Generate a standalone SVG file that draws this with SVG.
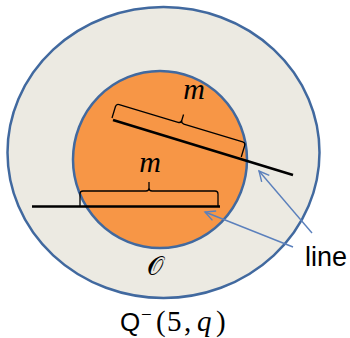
<svg xmlns="http://www.w3.org/2000/svg" width="350" height="338" viewBox="0 0 350 338">
<style>
.ring{stroke:#41699f;stroke-width:2.5}
.blk{stroke:#000;fill:none}
.brace{stroke:#000;fill:none;stroke-width:1.3}
.arr{stroke:#5b80bc;stroke-width:1.4;fill:none}
.lbl{font-family:"Liberation Serif",serif;font-style:italic;font-size:30px;fill:#000}
.ser{font-family:"Liberation Serif",serif;font-size:29px}
</style>
<defs>
<marker id="ah" markerWidth="14" markerHeight="14" refX="11" refY="7" orient="auto" markerUnits="userSpaceOnUse">
<path d="M1,2 L11,7 L1,12" fill="none" stroke="#5b80bc" stroke-width="1.4"/>
</marker>
</defs>
<rect width="350" height="338" fill="#fff"/>
<g id="outer"><ellipse cx="163.5" cy="152.5" rx="156" ry="145.5" fill="#eceae2" class="ring"/></g>
<g id="inner"><ellipse cx="160" cy="159.5" rx="87" ry="88.5" fill="#f79646" class="ring"/></g>
<g id="O"><text x="155" y="275" font-family="DejaVu Sans,serif" font-size="26" text-anchor="middle">𝒪</text></g>
<g id="lines">
<line x1="32" y1="206.5" x2="220" y2="206.5" class="blk" stroke-width="2.5"/>
<line x1="113" y1="120" x2="293" y2="175" class="blk" stroke-width="2.5"/>
</g>
<g id="brace-lower">
<path class="brace" transform="translate(80,206)" d="M0,0 L0,-12 Q0,-15 3,-15 L66,-15 Q69,-15 69,-18 L69,-24 M69,-18 Q69,-15 72,-15 L135,-15 Q138,-15 138,-12 L138,0"/>
<text class="lbl" x="150" y="172" text-anchor="middle">m</text>
</g>
<g id="brace-upper">
<path class="brace" transform="translate(112,118) rotate(16.8)" d="M0,0 L0,-12 Q0,-15 3,-15 L64.5,-15 Q67.5,-15 67.5,-18 L67.5,-24 M67.5,-18 Q67.5,-15 70.5,-15 L132,-15 Q135,-15 135,-12 L135,0"/>
<text class="lbl" x="194" y="99" text-anchor="middle">m</text>
</g>
<g id="connectors">
<line class="arr" x1="312" y1="233" x2="259" y2="171" marker-end="url(#ah)"/>
<line class="arr" x1="293" y1="247" x2="205" y2="212" marker-end="url(#ah)"/>
</g>
<g id="line-label"><text x="305" y="266" font-family="Liberation Sans,sans-serif" font-size="27">line</text></g>
<g id="title">
<text y="331" fill="#000"><tspan x="120" font-family="Liberation Sans,sans-serif" font-size="26">Q</tspan><tspan x="141" y="321" style="font-family:'Liberation Serif',serif;font-size:19px">−</tspan><tspan x="156" y="331" class="ser">(</tspan><tspan x="167" class="ser">5</tspan><tspan x="184" class="ser">,</tspan><tspan x="197" class="ser" font-style="italic">q</tspan><tspan x="216" class="ser">)</tspan></text>
</g>
</svg>
